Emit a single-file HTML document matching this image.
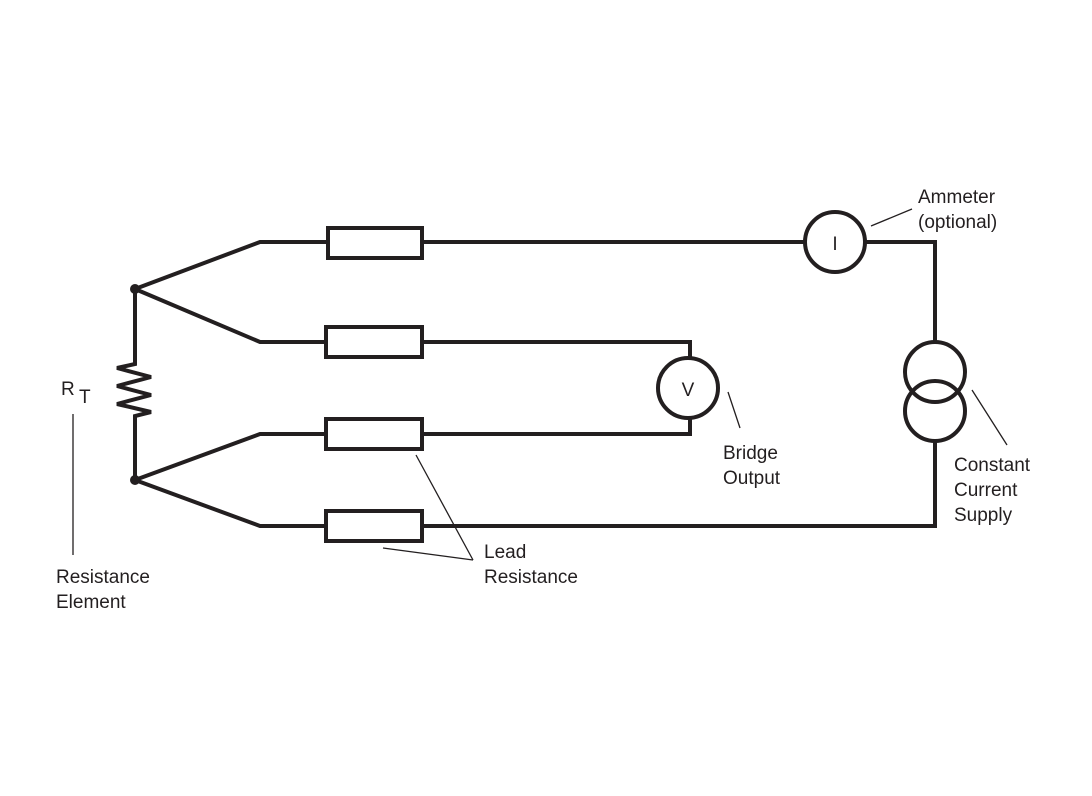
<!DOCTYPE html>
<html><head><style>
html,body{margin:0;padding:0;background:#fff;}
svg{display:block;}
text{font-family:"Liberation Sans",sans-serif;font-size:19px;fill:#231f20;}
</style></head><body>
<svg width="1092" height="796" viewBox="0 0 1092 796">
<g fill="none" stroke="#231f20" stroke-width="4" stroke-linejoin="miter" stroke-miterlimit="2">
<polyline points="135,289 260,242 328,242"/>
<rect x="328" y="228" width="94" height="30"/>
<line x1="422" y1="242" x2="805" y2="242"/>
<circle cx="835" cy="242" r="30"/>
<polyline points="865,242 935,242 935,342"/>
<circle cx="935" cy="372" r="30"/>
<circle cx="935" cy="411" r="30"/>
<polyline points="935,441 935,526 422,526"/>
<rect x="326" y="511" width="96" height="30"/>
<polyline points="326,526 260,526 135,480"/>
<polyline points="135,289 260,342 326,342"/>
<rect x="326" y="327" width="96" height="30"/>
<polyline points="422,342 690,342 690,358"/>
<circle cx="688" cy="388" r="30"/>
<polyline points="690,418 690,434 422,434"/>
<rect x="326" y="419" width="96" height="30"/>
<polyline points="326,434 260,434 135,480"/>
<polyline points="135,289 135,364 117,368 151,377 117,386 151,395 117,404 151,412 135,416 135,480"/>
</g>
<circle cx="135" cy="289" r="5" fill="#231f20"/>
<circle cx="135" cy="480" r="5" fill="#231f20"/>
<g stroke="#231f20" stroke-width="1.3">
<line x1="871" y1="226" x2="912" y2="209"/>
<line x1="728" y1="392" x2="740" y2="428"/>
<line x1="972" y1="390" x2="1007" y2="445"/>
<line x1="416" y1="455" x2="473" y2="560"/>
<line x1="383" y1="548" x2="473" y2="560"/>
<line x1="73" y1="414" x2="73" y2="555"/>
</g>
<text x="835" y="250" text-anchor="middle">I</text>
<text x="688" y="396" text-anchor="middle" font-size="18">V</text>
<text x="61" y="395" font-size="18">R</text>
<text x="79" y="403" font-size="20">T</text>
<text x="918" y="203">Ammeter</text>
<text x="918" y="228">(optional)</text>
<text x="723" y="459">Bridge</text>
<text x="723" y="484">Output</text>
<text x="954" y="471">Constant</text>
<text x="954" y="496">Current</text>
<text x="954" y="521">Supply</text>
<text x="484" y="558">Lead</text>
<text x="484" y="583">Resistance</text>
<text x="56" y="583">Resistance</text>
<text x="56" y="608">Element</text>
</svg>
</body></html>
